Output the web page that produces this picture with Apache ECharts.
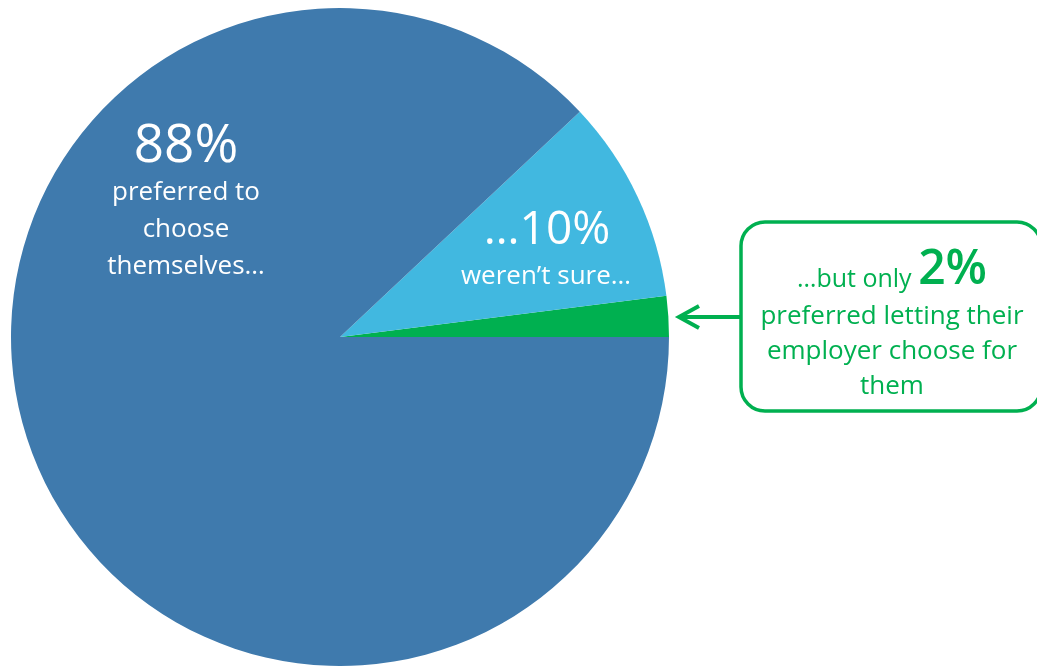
<!DOCTYPE html>
<html><head><meta charset="utf-8">
<script src="https://cdn.jsdelivr.net/npm/echarts@6/dist/echarts.min.js"></script>
<style>html,body{margin:0;padding:0;background:#fff}#c{width:1037px;height:666px}</style>
</head><body><div id="c"></div>
<script>
const categories = ['preferred letting their employer choose for them', "weren't sure", 'preferred to choose themselves'];
const values = [2, 10, 88];
const colors = ['#00B050', '#41B8E0', '#3F7AAD'];
const F = '"Open Sans", Lato, sans-serif';
const chart = echarts.init(document.getElementById('c'));
const green = '#00B050';
chart.setOption({
  animation: false,
  series: [{
    type: 'pie',
    center: [340, 337],
    radius: [0, 329],
    startAngle: 0,
    clockwise: false,
    label: { show: false },
    labelLine: { show: false },
    itemStyle: { borderWidth: 0 },
    emphasis: { disabled: true },
    data: categories.map((c, i) => ({ name: c, value: values[i], itemStyle: { color: colors[i] } }))
  }],
  graphic: [
    { type: 'text', style: { x: 186, y: 147, text: values[2] + '%', font: '53px ' + F, fill: '#fff', align: 'center', verticalAlign: 'middle' }, z: 10 },
    { type: 'text', style: { x: 186, y: 174.5, text: 'preferred to\nchoose\nthemselves…', font: '26px ' + F, fill: '#fff', align: 'center', verticalAlign: 'top', lineHeight: 37 }, z: 10 },
    { type: 'text', style: { x: 547, y: 231, text: '…' + values[1] + '%', font: '46px ' + F, fill: '#fff', align: 'center', verticalAlign: 'middle' }, z: 10 },
    { type: 'text', style: { x: 546, y: 277, text: 'weren’t sure…', font: '26px ' + F, fill: '#fff', align: 'center', verticalAlign: 'middle' }, z: 10 },
    { type: 'rect', shape: { x: 741, y: 222, width: 300, height: 189, r: 24 }, style: { fill: '#fff', stroke: green, lineWidth: 3.5 }, z: 5 },
    { type: 'line', shape: { x1: 741, y1: 317, x2: 679, y2: 317 }, style: { stroke: green, lineWidth: 4 }, z: 5 },
    { type: 'polyline', shape: { points: [[699, 306], [679, 317], [699, 328]] }, style: { stroke: green, lineWidth: 4, fill: null, lineJoin: 'miter' }, z: 5 },
    { type: 'text', style: { x: 892, y: 270, text: '{a|…but only }{b|' + values[0] + '%}', align: 'center', verticalAlign: 'middle',
        rich: { a: { font: '25px ' + F, fill: green, verticalAlign: 'bottom', padding: [0, 0, 2, 0] }, b: { font: '600 48px ' + F, fill: green, verticalAlign: 'bottom' } } }, z: 10 },
    { type: 'text', style: { x: 892, y: 299, text: 'preferred letting their\nemployer choose for\nthem', font: '26px ' + F, fill: green, align: 'center', verticalAlign: 'top', lineHeight: 35 }, z: 10 }
  ]
});
</script></body></html>
